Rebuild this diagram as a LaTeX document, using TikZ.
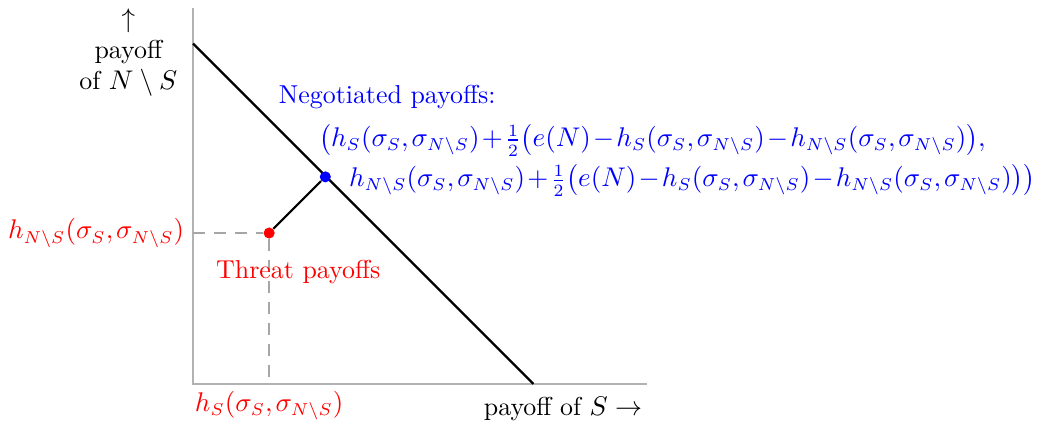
\documentclass[tikz,border=0pt]{standalone}
\usepackage{amsmath,amssymb}
\usepackage{tikz}
\usetikzlibrary{positioning, calc}

\begin{document}
\begin{tikzpicture}[
    x=0.5cm, y=0.5cm,
    font=\fontsize{10.5}{12.5}\selectfont,
    axis/.style={draw=gray!60, line width=0.9pt},
    helper/.style={draw=gray!70, dash pattern=on 5pt off 3.5pt, line width=0.7pt},
    frontier/.style={draw=black, line width=0.9pt},
    dot/.style={circle, fill, inner sep=0pt, minimum size=4.5pt},
    payoff/.style={execute at begin node={\medmuskip=1.5mu\thinmuskip=2mu}}
]
    \useasboundingbox (-5.50,-1.14) rectangle (24.05,10.94);

    % Axes
    \coordinate (origin) at (0,0);
    \coordinate (ytop) at (0,10.71);
    \coordinate (xend) at (12.93,0);
    \draw[axis] (ytop) -- (origin) -- (xend);

    % Frontier e(N)
    \coordinate (ftop) at (0,9.7);
    \coordinate (fbot) at (9.7,0);
    \draw[frontier] (ftop) -- (fbot);

    % Threat and negotiated points
    \node[dot, red] (threat) at (2.17,4.3) {};
    \node[dot, blue] (nego) at ($(threat)+(1.6,1.6)$) {};
    \coordinate (ty) at (0,4.3);
    \coordinate (tx) at (2.17,0);
    \draw[helper] (ty) -- (threat) -- (tx);
    \draw[frontier] (threat) -- (nego);

    % Axis labels
    \node[anchor=east, align=center] (ylbl) at (-0.2,9.45) {$\uparrow$\\payoff\\of $N\setminus S$};
    \node[anchor=north east] (xlbl) at (13.05,-0.12) {payoff of $S\rightarrow$};
    \node[red, payoff, left=0.05cm of ty, inner sep=2pt] (tylbl) {$h_{N\setminus S}(\sigma_S,\sigma_{N\setminus S})$};
    \node[red, payoff, below=0.02cm of tx, inner sep=2pt] (txlbl) {$h_S(\sigma_S,\sigma_{N\setminus S})$};
    \node[red] (threatlbl) at (3.0,3.2) {Threat payoffs};

    % Negotiated payoffs
    \node[blue, anchor=west] (negolbl) at (2.2,8.18) {Negotiated payoffs:};
    \node[blue, payoff, anchor=west] (negoone) at (3.35,6.95) {$\bigl(h_S(\sigma_S,\sigma_{N\setminus S})+\tfrac12\bigl(e(N)-h_S(\sigma_S,\sigma_{N\setminus S})-h_{N\setminus S}(\sigma_S,\sigma_{N\setminus S})\bigr),$};
    \node[blue, payoff, anchor=west] (negotwo) at (4.2,5.81) {$h_{N\setminus S}(\sigma_S,\sigma_{N\setminus S})+\tfrac12\bigl(e(N)-h_S(\sigma_S,\sigma_{N\setminus S})-h_{N\setminus S}(\sigma_S,\sigma_{N\setminus S})\bigr)\bigr)$};
\end{tikzpicture}
\end{document}
